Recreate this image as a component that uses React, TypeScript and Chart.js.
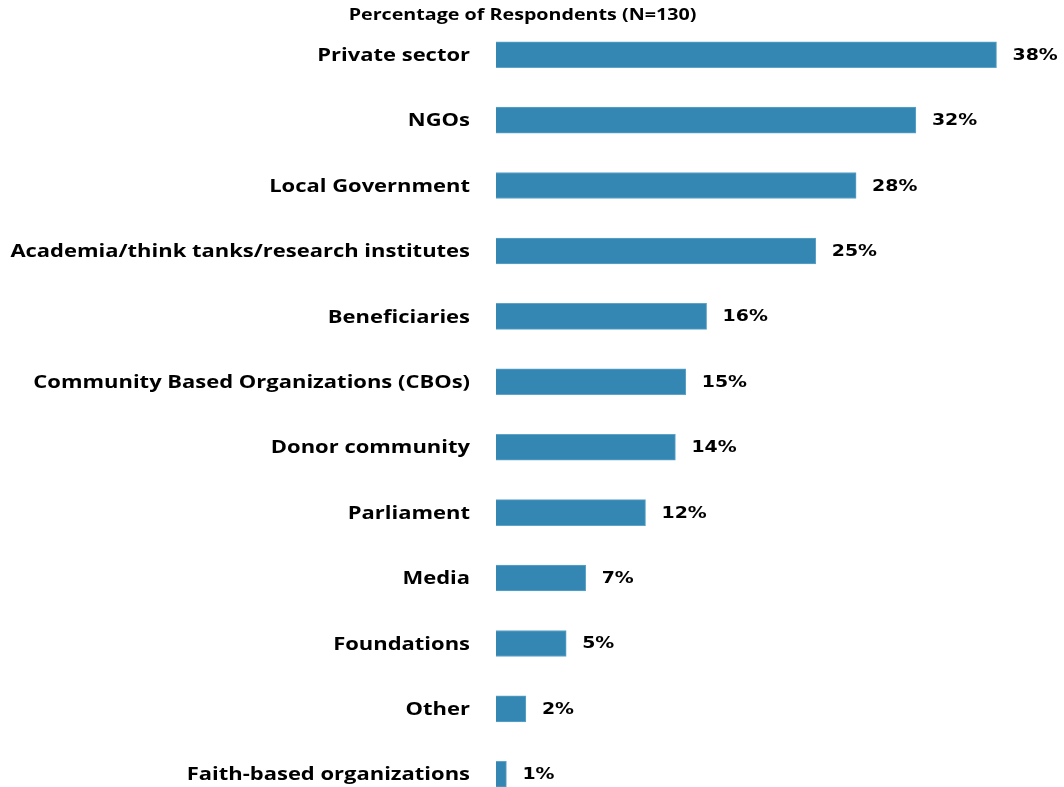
import React, { useEffect, useRef } from "react";
import { Chart, registerables } from "chart.js";

Chart.register(...registerables);

const categories = [
  "Private sector",
  "NGOs",
  "Local Government",
  "Academia/think tanks/research institutes",
  "Beneficiaries",
  "Community Based Organizations (CBOs)",
  "Donor community",
  "Parliament",
  "Media",
  "Foundations",
  "Other",
  "Faith-based organizations",
];

// Estimated percentages of respondents (N=130)
const values = [38.5, 32.3, 27.7, 24.6, 16.2, 14.6, 13.8, 11.5, 6.9, 5.4, 2.3, 0.8];
const valueLabels = ["38%", "32%", "28%", "25%", "16%", "15%", "14%", "12%", "7%", "5%", "2%", "1%"];
const titleText = "Percentage of Respondents (N=130)";

const LABEL_FONT = "'Open Sans', 'DejaVu Sans', sans-serif";
const VALUE_FONT = "'DejaVu Sans', Verdana, sans-serif";
const STRETCH = 1.22;

export default function App() {
  const ref = useRef<HTMLCanvasElement | null>(null);

  useEffect(() => {
    if (!ref.current) return;
    const extras = {
      id: "extras",
      afterDatasetsDraw(chart: any) {
        const ctx = chart.ctx;
        const meta = chart.getDatasetMeta(0);
        const yScale = chart.scales.y;
        const left = chart.chartArea.left;
        ctx.save();
        ctx.fillStyle = "#000000";
        ctx.textBaseline = "middle";

        // category labels
        ctx.font = `bold 18px ${LABEL_FONT}`;
        ctx.textAlign = "right";
        categories.forEach((c, i) => {
          const y = yScale.getPixelForValue(i);
          ctx.save();
          ctx.translate(left - 26, y + 1);
          ctx.scale(STRETCH, 1);
          ctx.fillText(c, 0, 0);
          ctx.restore();
        });

        // value labels
        ctx.font = `bold 15.5px ${VALUE_FONT}`;
        ctx.textAlign = "left";
        meta.data.forEach((bar: any, i: number) => {
          ctx.save();
          ctx.translate(bar.x + 16, bar.y + 1);
          ctx.scale(STRETCH, 1);
          ctx.fillText(valueLabels[i], 0, 0);
          ctx.restore();
        });

        // title
        ctx.font = `bold 15.5px ${LABEL_FONT}`;
        ctx.textAlign = "center";
        ctx.save();
        ctx.translate(522.5, 16);
        ctx.scale(1.27, 1);
        ctx.fillText(titleText, 0, 0);
        ctx.restore();
        ctx.restore();
      },
    };
    const chart = new Chart(ref.current, {
      type: "bar",
      data: {
        labels: categories,
        datasets: [
          {
            data: values,
            backgroundColor: "#3387B2",
            borderColor: "#5FA3C8",
            borderWidth: 1,
            barThickness: 26,
          },
        ],
      },
      options: {
        indexAxis: "y",
        animation: false,
        responsive: false,
        maintainAspectRatio: false,
        layout: { padding: { top: 22, bottom: 3, left: 0, right: 48 } },
        plugins: {
          legend: { display: false },
          tooltip: { enabled: false },
          title: { display: false },
        },
        scales: {
          x: {
            display: false,
            min: 0,
            max: 40,
          },
          y: {
            afterFit(scale: any) {
              scale.width = 496;
              scale.paddingTop = 0;
              scale.paddingBottom = 0;
            },
            grid: { display: false, drawTicks: false },
            border: { display: false },
            ticks: { display: false },
          },
        },
      },
      plugins: [extras],
    } as any);
    return () => chart.destroy();
  }, []);

  return (
    <div style={{ position: "fixed", left: 0, top: 0, width: 1064, height: 810, background: "#fff" }}>
      <canvas ref={ref} width={1064} height={810} style={{ display: "block" }} />
    </div>
  );
}
